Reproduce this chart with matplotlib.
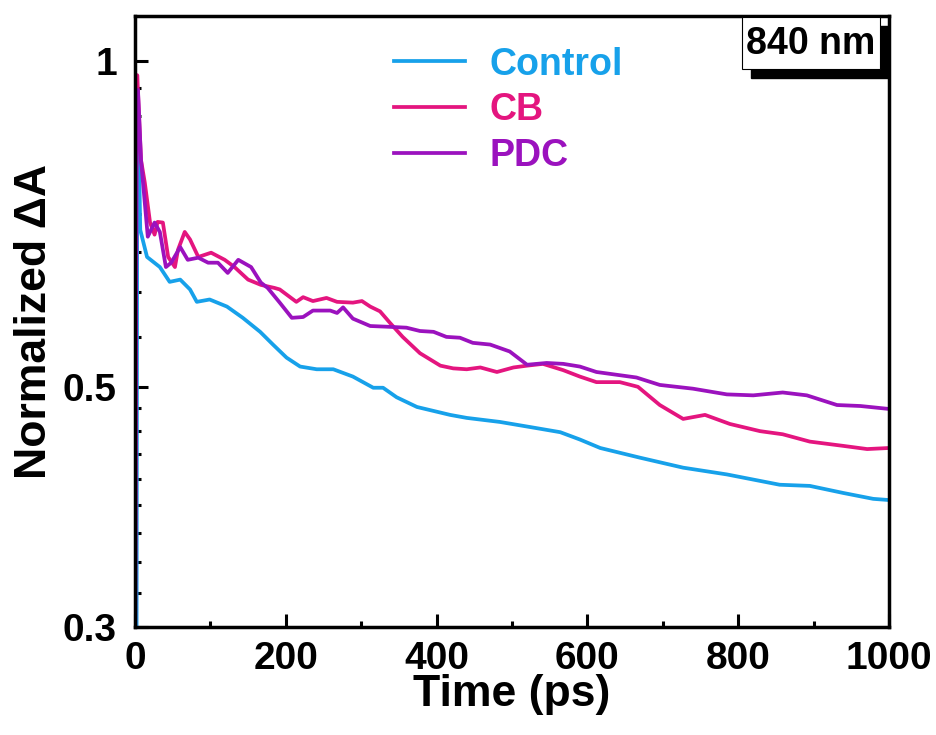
import matplotlib
matplotlib.use("Agg")
import matplotlib.pyplot as plt
from matplotlib.ticker import FixedLocator, NullFormatter
from matplotlib.patches import Rectangle

plt.rcParams['font.family'] = ['Liberation Sans', 'DejaVu Sans']
plt.rcParams['font.weight'] = 'bold'

# ---- data ----
t_control = [2, 3, 4, 7, 16, 33, 46, 60, 73, 82, 99, 122, 143, 166, 183, 201, 219, 241, 263,
             289, 316, 329, 347, 374, 418, 440, 484, 524, 564, 590, 617, 670, 727, 785, 855,
             895, 939, 979, 1000]
v_control = [0.25, 0.80, 0.92, 0.698, 0.659, 0.645, 0.625, 0.628, 0.615, 0.599, 0.602, 0.593,
             0.579, 0.562, 0.547, 0.532, 0.522, 0.519, 0.519, 0.511, 0.499, 0.499, 0.489, 0.479,
             0.471, 0.468, 0.464, 0.459, 0.454, 0.447, 0.439, 0.430, 0.421, 0.415, 0.406,
             0.405, 0.399, 0.394, 0.393]

t_cb = [0, 2, 3, 8, 13, 20, 26, 30, 37, 44, 53, 57, 66, 73, 84, 101, 119, 132, 150, 167, 185,
        192, 214, 223, 236, 254, 268, 289, 301, 312, 325, 338, 355, 378, 405, 422, 440, 458,
        480, 502, 520, 541, 568, 590, 612, 643, 667, 696, 727, 756, 789, 829, 859, 895, 939,
        971, 1000]
v_cb = [0.25, 0.85, 0.97, 0.81, 0.772, 0.709, 0.691, 0.71, 0.709, 0.659, 0.645, 0.669, 0.695,
        0.684, 0.659, 0.665, 0.655, 0.645, 0.628, 0.621, 0.617, 0.615, 0.599, 0.605, 0.600,
        0.604, 0.599, 0.598, 0.600, 0.593, 0.587, 0.573, 0.556, 0.537, 0.523, 0.520, 0.519,
        0.521, 0.516, 0.521, 0.523, 0.525, 0.518, 0.511, 0.505, 0.505, 0.500, 0.481, 0.467,
        0.471, 0.462, 0.455, 0.452, 0.445, 0.441, 0.438, 0.439]

t_pdc = [0, 2, 4, 8, 17, 26, 33, 41, 48, 60, 70, 84, 97, 110, 123, 137, 154, 167, 176, 192,
         208, 223, 236, 259, 268, 276, 289, 312, 338, 360, 378, 396, 413, 431, 448, 471, 497,
         520, 546, 568, 590, 612, 665, 696, 740, 785, 820, 859, 891, 931, 962, 1000]
v_pdc = [0.25, 0.80, 0.94, 0.81, 0.688, 0.709, 0.695, 0.645, 0.651, 0.673, 0.655, 0.658, 0.651,
         0.651, 0.637, 0.655, 0.645, 0.624, 0.617, 0.598, 0.579, 0.580, 0.588, 0.588, 0.585,
         0.592, 0.578, 0.569, 0.568, 0.567, 0.563, 0.562, 0.556, 0.555, 0.549, 0.547, 0.539,
         0.524, 0.526, 0.525, 0.522, 0.516, 0.510, 0.502, 0.498, 0.492, 0.491, 0.494, 0.491,
         0.481, 0.480, 0.477]

labels = ["Control", "CB", "PDC"]
colors = ["#17A1EA", "#E4157F", "#9B12BE"]

x_major = [0, 200, 400, 600, 800, 1000]
x_minor = [100, 300, 500, 700, 900]
y_major = [0.3, 0.5, 1.0]
y_major_labels = ["0.3", "0.5", "1"]
y_minor = [0.3 + 0.2 / 9 * k for k in range(1, 9)] + [0.5 + 0.5 / 9 * k for k in range(1, 9)]

# ---- figure ----
fig = plt.figure(figsize=(9.36, 7.35), dpi=100)
ax = fig.add_axes([0.1442, 0.1469, 0.8056, 0.8313])

series = [(t_control, v_control), (t_cb, v_cb), (t_pdc, v_pdc)]
for (t, v), lab, c in zip(series, labels, colors):
    ax.plot(t, v, color=c, lw=2.7, label=lab, solid_joinstyle='round')

ax.set_yscale('log')
ax.set_xlim(0, 1000)
ax.set_ylim(0.3, 1.1)

ax.xaxis.set_major_locator(FixedLocator(x_major))
ax.xaxis.set_minor_locator(FixedLocator(x_minor))
ax.yaxis.set_major_locator(FixedLocator(y_major))
ax.yaxis.set_minor_locator(FixedLocator(y_minor))
ax.set_yticklabels(y_major_labels)
ax.yaxis.set_minor_formatter(NullFormatter())

ax.tick_params(which='both', direction='in', top=False, right=False, width=2.2,
               labelsize=28)
ax.tick_params(which='major', length=9.5)
ax.tick_params(which='minor', length=4)
ax.tick_params(axis='y', pad=13)
ax.tick_params(axis='x', pad=10)
for lbl in ax.get_xticklabels() + ax.get_yticklabels():
    lbl.set_fontweight('bold')

for s in ax.spines.values():
    s.set_linewidth(2.5)

ax.set_xlabel("Time (ps)", fontsize=32, fontweight='bold', labelpad=-2)
ax.set_ylabel("Normalized ΔA", fontsize=32, fontweight='bold', labelpad=6)

leg = ax.legend(loc='upper left', bbox_to_anchor=(0.343, 0.95), frameon=False,
                handlelength=1.9, handletextpad=0.65, labelspacing=0.26,
                borderpad=0, borderaxespad=0, labelcolor='linecolor',
                prop={'weight': 'bold', 'size': 27})

# "840 nm" box with shadow
ax.add_patch(Rectangle((0.817, 0.898), 0.183, 0.085, transform=ax.transAxes,
                       facecolor='black', edgecolor='black', clip_on=False, zorder=5))
ax.add_patch(Rectangle((0.805, 0.913), 0.183, 0.085, transform=ax.transAxes,
                       facecolor='white', edgecolor='black', lw=0.8, clip_on=False, zorder=6))
ax.text(0.8965, 0.955, "840 nm", transform=ax.transAxes, ha='center', va='center',
        fontsize=27, fontweight='bold', zorder=7)

fig.savefig("out.png", dpi=100)
